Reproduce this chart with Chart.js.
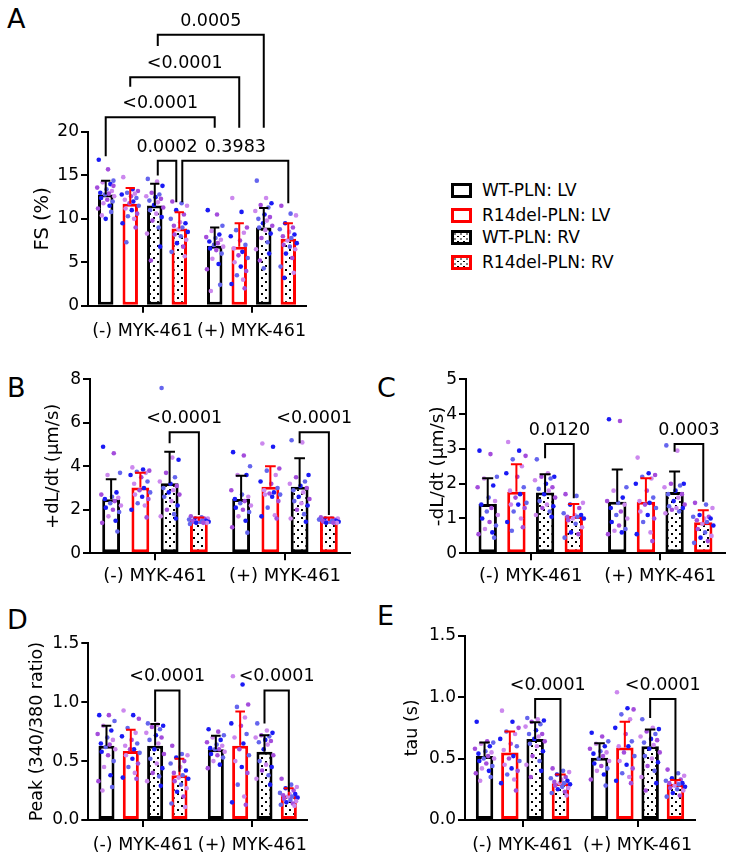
<!DOCTYPE html>
<html>
<head>
<meta charset="utf-8">
<script src="https://cdn.jsdelivr.net/npm/chart.js@4.4.1/dist/chart.umd.min.js"></script>
<style>
  body { margin: 0; background: #fff; font-family: "DejaVu Sans", sans-serif; }
  #page { position: relative; width: 733px; height: 860px; overflow: hidden; }
  canvas { position: absolute; }
  .letter { position: absolute; font-size: 27px; line-height: 27px; }
  .box { position: absolute; left: 451px; width: 21px; height: 15px; box-sizing: border-box; border: 3px solid #000; background: #fff; }
  .box.red { border-color: #f00; }
  .box.dots { background: radial-gradient(circle, #000 0.8px, transparent 1.1px) 1px 1px / 6px 5px, radial-gradient(circle, #000 0.8px, transparent 1.1px) 4px 3.5px / 6px 5px, #fff; }
  .key { position: absolute; left: 482px; font-size: 17px; line-height: 20px; white-space: nowrap; }
</style>
</head>
<body>
<div id="page">
  <div class="letter" style="left:7px;top:5px">A</div>
  <div class="letter" style="left:7px;top:374px">B</div>
  <div class="letter" style="left:377px;top:374px">C</div>
  <div class="letter" style="left:7px;top:606px">D</div>
  <div class="letter" style="left:377px;top:602px">E</div>

  <div class="box" style="top:183px"></div><div class="key" style="top:180px">WT-PLN: LV</div>
  <div class="box red" style="top:208px"></div><div class="key" style="top:205px">R14del-PLN: LV</div>
  <div class="box dots" style="top:230px"></div><div class="key" style="top:227px">WT-PLN: RV</div>
  <div class="box red dots" style="top:255px"></div><div class="key" style="top:252px">R14del-PLN: RV</div>

  <canvas id="chartA"></canvas>
  <canvas id="chartB"></canvas>
  <canvas id="chartC"></canvas>
  <canvas id="chartD"></canvas>
  <canvas id="chartE"></canvas>
</div>

<script>
// categories
const groupLabels = ['(-) MYK-461', '(+) MYK-461'];
const seriesLabels = ['WT-PLN: LV', 'R14del-PLN: LV', 'WT-PLN: RV', 'R14del-PLN: RV'];
// every value list below runs: (-) WT LV, R14 LV, WT RV, R14 RV, then (+) in the same order

// A: FS (%)
const fsMean = [12.8, 11.75, 11.55, 8.9, 6.9, 6.8, 9.0, 7.7];
const fsSD = [1.6, 1.8, 2.5, 1.85, 2.1, 2.7, 2.25, 1.8];
const fsDots = [
  [16.8, 15.7, 14.4, 14.2, 14.0, 13.6, 13.4, 13.2, 13.0, 12.9, 12.8, 12.6, 12.4, 12.2, 12.0, 11.8, 11.5, 11.2, 10.8, 10.4, 10.0, 13.8],
  [14.8, 13.4, 13.2, 13.0, 12.9, 12.8, 12.6, 12.4, 12.2, 12.0, 11.8, 11.5, 11.2, 11.0, 10.6, 10.3, 10.0, 9.5, 9.0, 7.3],
  [14.6, 14.3, 13.8, 13.0, 12.8, 12.6, 12.5, 12.3, 12.1, 11.9, 11.6, 11.3, 11.0, 10.6, 10.2, 9.8, 9.0, 8.3, 6.8, 5.2],
  [12.0, 11.8, 11.5, 11.0, 10.5, 10.0, 9.6, 9.5, 9.2, 9.0, 8.8, 8.5, 8.2, 8.0, 7.6, 7.2, 6.8, 6.2, 5.7],
  [11.0, 10.5, 9.2, 8.6, 8.2, 7.9, 7.8, 7.6, 7.4, 7.2, 7.0, 6.8, 6.6, 6.4, 6.0, 5.4, 4.8, 4.2, 2.4, 1.7],
  [12.4, 10.8, 9.0, 8.7, 8.4, 8.0, 7.5, 7.0, 6.6, 6.2, 5.8, 5.5, 5.0, 4.5, 4.0, 3.5, 3.0, 2.5, 2.0],
  [14.4, 12.4, 11.8, 11.6, 11.3, 10.9, 10.5, 10.2, 10.0, 9.8, 9.5, 9.2, 9.0, 8.7, 8.3, 7.8, 7.3, 6.5, 6.0, 5.2, 4.3],
  [11.5, 10.6, 10.4, 9.5, 9.0, 8.8, 8.5, 8.2, 8.0, 7.8, 7.5, 7.2, 7.0, 6.8, 6.5, 6.0, 5.5, 4.5, 3.8, 3.2]
];
const fsStats = [
  { text: '0.0002', from: [0, 2], to: [0, 3], top: 16.7, legFrom: 15.0, legTo: 11.9 },
  { text: '0.3983', from: [0, 3], to: [1, 3], top: 16.7, legFrom: 11.9, legTo: 11.8 },
  { text: '<0.0001', from: [0, 0], to: [1, 0], top: 21.7, legFrom: 17.2, legTo: 20.5 },
  { text: '<0.0001', from: [0, 1], to: [1, 1], top: 26.3, legFrom: 25.2, legTo: 20.5 },
  { text: '0.0005', from: [0, 2], to: [1, 2], top: 31.2, legFrom: 29.9, legTo: 20.5 }
];

// B: +dL/dt
const plusMean = [2.48, 3.02, 3.22, 1.5, 2.5, 3.06, 3.06, 1.5];
const plusSD = [0.92, 0.68, 1.45, 0.15, 1.06, 0.94, 1.31, 0.15];
const plusDots = [
  [4.9, 4.6, 3.7, 3.6, 2.8, 2.7, 2.6, 2.55, 2.5, 2.4, 2.3, 2.2, 2.1, 2.0, 1.9, 1.7, 1.5, 1.4, 1.0],
  [3.95, 3.85, 3.8, 3.75, 3.7, 3.6, 3.5, 3.3, 3.2, 3.0, 2.9, 2.8, 2.7, 2.6, 2.5, 2.3, 2.2, 2.0, 1.65],
  [7.6, 4.4, 4.3, 3.7, 3.5, 3.3, 3.2, 3.1, 3.0, 2.9, 2.8, 2.7, 2.6, 2.4, 2.2, 2.0, 1.8, 1.7, 1.6],
  [1.7, 1.65, 1.6, 1.6, 1.6, 1.55, 1.55, 1.5, 1.5, 1.5, 1.5, 1.45, 1.45, 1.45, 1.4, 1.4, 1.4, 1.35],
  [4.65, 4.5, 4.0, 3.6, 3.6, 2.9, 2.7, 2.6, 2.5, 2.4, 2.3, 2.2, 2.1, 2.0, 1.9, 1.7, 1.5, 1.2, 0.95],
  [5.05, 4.9, 3.9, 3.8, 3.6, 3.3, 3.2, 3.0, 2.9, 2.8, 2.75, 2.7, 2.7, 2.6, 2.4, 2.1, 1.75, 1.7, 1.6],
  [5.2, 5.1, 3.6, 3.5, 3.3, 3.2, 3.1, 3.0, 2.9, 2.8, 2.6, 2.5, 2.4, 2.3, 2.2, 2.0, 1.8, 1.6, 1.45],
  [1.65, 1.6, 1.6, 1.6, 1.55, 1.55, 1.55, 1.5, 1.5, 1.5, 1.5, 1.45, 1.45, 1.45, 1.4, 1.4, 1.4]
];
const plusStats = [
  { text: '<0.0001', from: [0, 2], to: [0, 3], top: 5.57, legFrom: 5.06, legTo: 1.76 },
  { text: '<0.0001', from: [1, 2], to: [1, 3], top: 5.57, legFrom: 5.06, legTo: 1.76 }
];

// C: -dL/dt
const minusMean = [1.42, 1.77, 1.75, 1.07, 1.48, 1.48, 1.76, 0.89];
const minusSD = [0.74, 0.79, 0.52, 0.35, 0.93, 0.68, 0.59, 0.35];
const minusDots = [
  [2.95, 2.85, 2.2, 2.15, 1.95, 1.9, 1.6, 1.5, 1.4, 1.3, 1.2, 1.1, 1.0, 0.9, 0.8, 0.7, 0.6, 0.55, 0.45],
  [3.2, 2.95, 2.8, 2.7, 2.5, 2.3, 2.2, 1.9, 1.8, 1.7, 1.6, 1.45, 1.4, 1.4, 1.3, 1.2, 1.0, 0.9, 0.75, 0.65],
  [2.7, 2.3, 2.2, 2.2, 2.15, 2.1, 2.0, 1.9, 1.85, 1.8, 1.7, 1.6, 1.5, 1.4, 1.35, 1.3, 1.2, 1.1, 1.05],
  [1.7, 1.65, 1.45, 1.4, 1.3, 1.15, 1.1, 1.1, 1.05, 1.05, 1.0, 1.0, 0.95, 0.85, 0.75, 0.6, 0.55, 0.45],
  [3.85, 3.8, 1.9, 1.8, 1.6, 1.5, 1.45, 1.4, 1.3, 1.2, 1.1, 1.0, 0.9, 0.8, 0.7, 0.65, 0.6, 0.55],
  [2.75, 2.3, 2.25, 2.2, 2.15, 2.0, 1.8, 1.6, 1.5, 1.45, 1.4, 1.3, 1.2, 1.1, 1.0, 0.9, 0.6, 0.55, 0.35],
  [3.1, 2.95, 2.0, 2.0, 1.95, 1.9, 1.8, 1.7, 1.7, 1.6, 1.5, 1.4, 1.35, 1.3, 1.3, 1.25, 1.2, 1.15],
  [1.45, 1.4, 1.3, 1.1, 1.05, 1.05, 1.0, 1.0, 0.95, 0.9, 0.85, 0.8, 0.7, 0.6, 0.5, 0.45, 0.35, 0.3]
];
const minusStats = [
  { text: '0.0120', from: [0, 2], to: [0, 3], top: 3.14, legFrom: 2.73, legTo: 1.58 },
  { text: '0.0003', from: [1, 2], to: [1, 3], top: 3.14, legFrom: 2.92, legTo: 1.48 }
];

// D: Peak (340/380 ratio)
const peakMean = [0.63, 0.586, 0.63, 0.38, 0.60, 0.63, 0.58, 0.207];
const peakSD = [0.17, 0.18, 0.185, 0.14, 0.116, 0.29, 0.14, 0.063];
const peakDots = [
  [0.89, 0.89, 0.84, 0.8, 0.76, 0.73, 0.7, 0.68, 0.65, 0.64, 0.62, 0.6, 0.58, 0.55, 0.5, 0.45, 0.38, 0.33, 0.28, 0.25],
  [0.93, 0.89, 0.86, 0.78, 0.74, 0.71, 0.68, 0.65, 0.63, 0.6, 0.6, 0.57, 0.55, 0.52, 0.48, 0.45, 0.4, 0.36, 0.35],
  [0.82, 0.81, 0.8, 0.79, 0.77, 0.74, 0.72, 0.7, 0.68, 0.65, 0.6, 0.56, 0.52, 0.48, 0.44, 0.4, 0.37, 0.33, 0.29],
  [0.63, 0.56, 0.55, 0.53, 0.5, 0.48, 0.45, 0.42, 0.4, 0.38, 0.36, 0.35, 0.33, 0.3, 0.27, 0.24, 0.2, 0.14, 0.11],
  [0.77, 0.75, 0.72, 0.7, 0.68, 0.66, 0.64, 0.63, 0.61, 0.6, 0.6, 0.58, 0.56, 0.55, 0.53, 0.5, 0.47, 0.44],
  [1.22, 1.15, 0.98, 0.96, 0.87, 0.82, 0.8, 0.73, 0.7, 0.65, 0.6, 0.55, 0.5, 0.45, 0.4, 0.3, 0.2, 0.15, 0.13],
  [0.82, 0.76, 0.74, 0.72, 0.71, 0.7, 0.68, 0.67, 0.66, 0.64, 0.6, 0.55, 0.5, 0.47, 0.45, 0.42, 0.38, 0.35, 0.3],
  [0.35, 0.3, 0.28, 0.27, 0.25, 0.23, 0.22, 0.22, 0.21, 0.2, 0.2, 0.19, 0.18, 0.17, 0.16, 0.15, 0.14, 0.13, 0.12]
];
const peakStats = [
  { text: '<0.0001', from: [0, 2], to: [0, 3], top: 1.10, legFrom: 0.835, legTo: 0.41 },
  { text: '<0.0001', from: [1, 2], to: [1, 3], top: 1.10, legFrom: 0.82, legTo: 0.24 }
];

// E: tau (s)
const tauMean = [0.52, 0.55, 0.66, 0.30, 0.507, 0.59, 0.60, 0.293];
const tauSD = [0.11, 0.17, 0.135, 0.07, 0.117, 0.21, 0.137, 0.032];
const tauDots = [
  [0.8, 0.64, 0.63, 0.62, 0.6, 0.58, 0.56, 0.55, 0.54, 0.52, 0.5, 0.5, 0.48, 0.46, 0.44, 0.42, 0.4, 0.38, 0.35, 0.32],
  [0.89, 0.8, 0.75, 0.72, 0.7, 0.66, 0.62, 0.6, 0.57, 0.52, 0.5, 0.48, 0.45, 0.42, 0.4, 0.37, 0.33, 0.3, 0.24],
  [0.83, 0.82, 0.81, 0.8, 0.78, 0.76, 0.73, 0.7, 0.7, 0.68, 0.66, 0.64, 0.62, 0.6, 0.56, 0.52, 0.48, 0.45, 0.4, 0.35],
  [0.42, 0.4, 0.39, 0.37, 0.35, 0.34, 0.33, 0.32, 0.31, 0.3, 0.3, 0.29, 0.28, 0.27, 0.26, 0.25, 0.23, 0.22, 0.2],
  [0.71, 0.68, 0.64, 0.62, 0.6, 0.58, 0.56, 0.55, 0.54, 0.52, 0.5, 0.48, 0.46, 0.44, 0.42, 0.4, 0.37, 0.33, 0.28],
  [1.04, 0.91, 0.9, 0.86, 0.82, 0.75, 0.7, 0.64, 0.6, 0.6, 0.55, 0.52, 0.48, 0.45, 0.42, 0.38, 0.35, 0.32, 0.3],
  [0.82, 0.75, 0.74, 0.72, 0.7, 0.68, 0.66, 0.65, 0.63, 0.61, 0.58, 0.55, 0.52, 0.5, 0.47, 0.44, 0.4, 0.35, 0.3, 0.24],
  [0.41, 0.38, 0.36, 0.34, 0.33, 0.32, 0.31, 0.3, 0.3, 0.29, 0.28, 0.27, 0.26, 0.25, 0.24, 0.22, 0.2, 0.19]
];
const tauStats = [
  { text: '<0.0001', from: [0, 2], to: [0, 3], top: 0.985, legFrom: 0.827, legTo: 0.31 },
  { text: '<0.0001', from: [1, 2], to: [1, 3], top: 0.985, legFrom: 0.83, legTo: 0.33 }
];

// styling
Chart.defaults.font.family = '"DejaVu Sans", sans-serif';
Chart.defaults.color = '#000';
const FONT = '"DejaVu Sans", sans-serif';
const DOT_COLORS = ['#1a1af5', '#cc88ee', '#6565ee', '#a44ddc'];
const JITTER = [-0.45, 0.15, 0.5, -0.2, 0.3, -0.55, 0.05, 0.4, -0.35, 0.2, -0.05, 0.55, -0.3, 0.1, 0.45, -0.15, 0.25, -0.5, 0.35, -0.25, 0.0, 0.5];
const X_AXIS_H = 40;

function dotPattern() {
  const c = document.createElement('canvas');
  c.width = 8; c.height = 8;
  const g = c.getContext('2d');
  g.fillStyle = '#fff';
  g.fillRect(0, 0, 8, 8);
  g.fillStyle = '#000';
  g.fillRect(1, 1, 2, 2);
  g.fillRect(5, 5, 2, 2);
  return g.createPattern(c, 'repeat');
}

// dots, error bars and p-value brackets, placed off the chart's own scales
function overlay(p) {
  return {
    id: 'overlay',
    afterDatasetsDraw(chart) {
      const ctx = chart.ctx;
      const y = chart.scales.y;
      const barAt = (g, s) => chart.getDatasetMeta(s).data[g];
      ctx.save();
      for (let s = 0; s < 4; s++) {
        for (let g = 0; g < 2; g++) {
          const bar = barAt(g, s);
          const k = g * 4 + s;
          const w = bar.width;
          p.dots[k].forEach((v, i) => {
            ctx.fillStyle = DOT_COLORS[(i * 3 + k) % 4];
            ctx.beginPath();
            ctx.arc(bar.x + JITTER[i % JITTER.length] * w, y.getPixelForValue(v), 2.3, 0, Math.PI * 2);
            ctx.fill();
          });
        }
      }
      for (let s = 0; s < 4; s++) {
        for (let g = 0; g < 2; g++) {
          const bar = barAt(g, s);
          const k = g * 4 + s;
          const top = y.getPixelForValue(p.mean[k] + p.sd[k]);
          const half = bar.width * 0.3;
          ctx.strokeStyle = s % 2 ? '#f00' : '#000';
          ctx.lineWidth = 2;
          ctx.beginPath();
          ctx.moveTo(bar.x, bar.y);
          ctx.lineTo(bar.x, top);
          ctx.moveTo(bar.x - half, top);
          ctx.lineTo(bar.x + half, top);
          ctx.stroke();
        }
      }
      // brackets that share an end bar are pushed apart a little
      const uses = {};
      p.stats.forEach(st => {
        [st.from, st.to].forEach(e => { uses[e.join()] = (uses[e.join()] || 0) + 1; });
      });
      ctx.strokeStyle = '#000';
      ctx.fillStyle = '#000';
      ctx.lineWidth = 2;
      ctx.font = '17.5px ' + FONT;
      ctx.textAlign = 'center';
      ctx.textBaseline = 'alphabetic';
      p.stats.forEach(st => {
        const x1 = barAt(st.from[0], st.from[1]).x + (uses[st.from.join()] > 1 ? 3 : 0);
        const x2 = barAt(st.to[0], st.to[1]).x - (uses[st.to.join()] > 1 ? 3 : 0);
        const yt = y.getPixelForValue(st.top);
        ctx.beginPath();
        ctx.moveTo(x1, y.getPixelForValue(st.legFrom));
        ctx.lineTo(x1, yt);
        ctx.lineTo(x2, yt);
        ctx.lineTo(x2, y.getPixelForValue(st.legTo));
        ctx.stroke();
        ctx.fillText(st.text, (x1 + x2) / 2, yt - 9);
      });
      ctx.restore();
    }
  };
}

function makePanel(p) {
  const canvas = document.getElementById(p.id);
  const [cx, cy, cw, ch] = p.box;
  const [l, t, r, b] = p.area;
  canvas.width = cw;
  canvas.height = ch;
  canvas.style.left = cx + 'px';
  canvas.style.top = cy + 'px';
  const pattern = dotPattern();
  const fills = ['#fff', '#fff', pattern, pattern];
  const borders = ['#000', '#f00', '#000', '#f00'];
  const datasets = seriesLabels.map((label, i) => ({
    label: label,
    data: [p.mean[i], p.mean[4 + i]],
    backgroundColor: fills[i],
    borderColor: borders[i],
    borderWidth: 3,
    borderSkipped: false,
    categoryPercentage: p.catPct,
    barPercentage: p.barPct
  }));
  const half = p.titleSize * 0.6;
  new Chart(canvas, {
    type: 'bar',
    data: { labels: groupLabels, datasets: datasets },
    options: {
      responsive: false,
      animation: false,
      devicePixelRatio: 1,
      layout: { padding: { left: 0, top: t - cy, right: cx + cw - r, bottom: cy + ch - b - X_AXIS_H } },
      plugins: { legend: { display: false }, tooltip: { enabled: false } },
      scales: {
        x: {
          grid: { drawOnChartArea: false, offset: false, color: '#000', lineWidth: 2, tickLength: 7 },
          border: { color: '#000', width: 2 },
          ticks: { font: { size: p.xSize }, padding: p.xPad, maxRotation: 0, autoSkip: false },
          afterFit: s => { s.height = X_AXIS_H; }
        },
        y: {
          min: 0,
          max: p.yMax,
          ticks: {
            stepSize: p.step,
            font: { size: 17 },
            padding: 2,
            callback: v => p.decimals ? v.toFixed(1) : v
          },
          grid: { drawOnChartArea: false, color: '#000', lineWidth: 2, tickLength: 7 },
          border: { color: '#000', width: 2 },
          title: { display: true, text: p.title, font: { size: p.titleSize }, padding: { top: p.titleX - cx - half, bottom: 0 } },
          afterFit: s => { s.width = l - cx; }
        }
      }
    },
    plugins: [overlay(p)]
  });
}

makePanel({ id: 'chartA', box: [0, 0, 330, 350], area: [88, 132, 306, 305.7], yMax: 20, step: 5,
  title: 'FS (%)', titleSize: 19.5, titleX: 43, xSize: 17.5, xPad: 8, catPct: 0.9, barPct: 0.63,
  mean: fsMean, sd: fsSD, dots: fsDots, stats: fsStats });
makePanel({ id: 'chartB', box: [0, 360, 365, 240], area: [90, 379.3, 350, 553.3], yMax: 8, step: 2,
  title: '+dL/dt (\u03bcm/s)', titleSize: 18, titleX: 53, xSize: 18, xPad: 5, catPct: 0.9, barPct: 0.61,
  mean: plusMean, sd: plusSD, dots: plusDots, stats: plusStats });
makePanel({ id: 'chartC', box: [370, 360, 363, 240], area: [466, 379.3, 725, 553.3], yMax: 5, step: 1,
  title: '-dL/dt (\u03bcm/s)', titleSize: 18.5, titleX: 438, xSize: 18, xPad: 5, catPct: 0.886, barPct: 0.64,
  mean: minusMean, sd: minusSD, dots: minusDots, stats: minusStats });
makePanel({ id: 'chartD', box: [0, 600, 330, 260], area: [88.3, 643.3, 307, 820], yMax: 1.5, step: 0.5, decimals: true,
  title: 'Peak (340/380 ratio)', titleSize: 17.5, titleX: 37, xSize: 17.5, xPad: 8, catPct: 0.89, barPct: 0.66,
  mean: peakMean, sd: peakSD, dots: peakDots, stats: peakStats });
makePanel({ id: 'chartE', box: [370, 600, 363, 260], area: [465, 635.7, 695, 820], yMax: 1.5, step: 0.5, decimals: true,
  title: 'tau (s)', titleSize: 17.5, titleX: 412, xSize: 17.5, xPad: 8, catPct: 0.88, barPct: 0.69,
  mean: tauMean, sd: tauSD, dots: tauDots, stats: tauStats });
</script>
</body>
</html>
